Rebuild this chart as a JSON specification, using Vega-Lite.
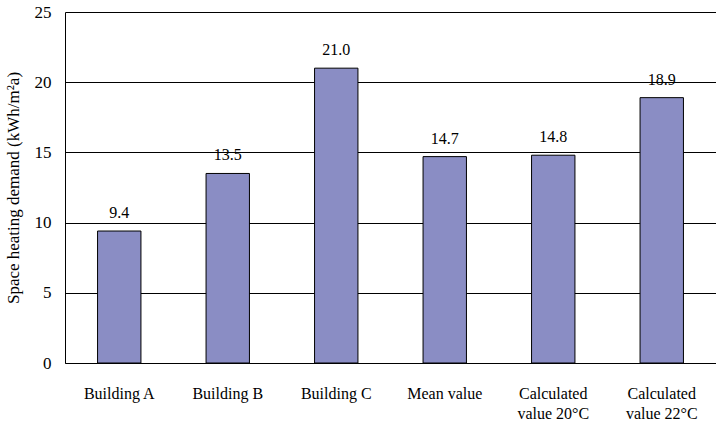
{
  "$schema": "https://vega.github.io/schema/vega-lite/v6.json",
  "width": 651,
  "height": 351,
  "autosize": "none",
  "padding": {"left": 65, "top": 12, "right": 0, "bottom": 64},
  "background": "white",
  "config": {
    "view": {"stroke": null},
    "font": "Liberation Serif"
  },
  "data": {
    "values": [
      {"category": "Building A", "demand": 9.4},
      {"category": "Building B", "demand": 13.5},
      {"category": "Building C", "demand": 21.0},
      {"category": "Mean value", "demand": 14.7},
      {"category": "Calculated value 20°C", "demand": 14.8},
      {"category": "Calculated value 22°C", "demand": 18.9}
    ]
  },
  "encoding": {
    "x": {
      "field": "category",
      "type": "nominal",
      "sort": null,
      "scale": {"paddingInner": 0.6, "paddingOuter": 0.3},
      "axis": {
        "title": null,
        "orient": "bottom",
        "labelAngle": 0,
        "labelFont": "Liberation Serif",
        "labelFontSize": 16,
        "labelColor": "black",
        "labelPadding": 22,
        "labelLineHeight": 20,
        "labelExpr": "indexof(datum.value,'Calculated ')==0 ? ['Calculated', substring(datum.value, 11)] : datum.value",
        "domainColor": "black",
        "domainWidth": 1,
        "ticks": false
      }
    },
    "y": {
      "field": "demand",
      "type": "quantitative",
      "scale": {"domain": [0, 25]},
      "axis": {
        "title": "Space heating demand (kWh/m²a)",
        "titleFont": "Liberation Serif",
        "titleFontSize": 17,
        "titleFontWeight": "normal",
        "titleColor": "black",
        "titlePadding": 12,
        "values": [0, 5, 10, 15, 20, 25],
        "labelFont": "Liberation Serif",
        "labelFontSize": 17,
        "labelColor": "black",
        "labelPadding": 14,
        "ticks": false,
        "domainColor": "black",
        "domainWidth": 1,
        "grid": true,
        "gridColor": "black",
        "gridWidth": 1,
        "gridOpacity": 1
      }
    }
  },
  "layer": [
    {
      "mark": {"type": "bar", "color": "#8A8DC4", "stroke": "black", "strokeWidth": 1}
    },
    {
      "mark": {"type": "text", "dy": -18, "fontSize": 16, "font": "Liberation Serif", "color": "black"},
      "encoding": {
        "text": {"field": "demand", "type": "quantitative", "format": ".1f"}
      }
    }
  ]
}
